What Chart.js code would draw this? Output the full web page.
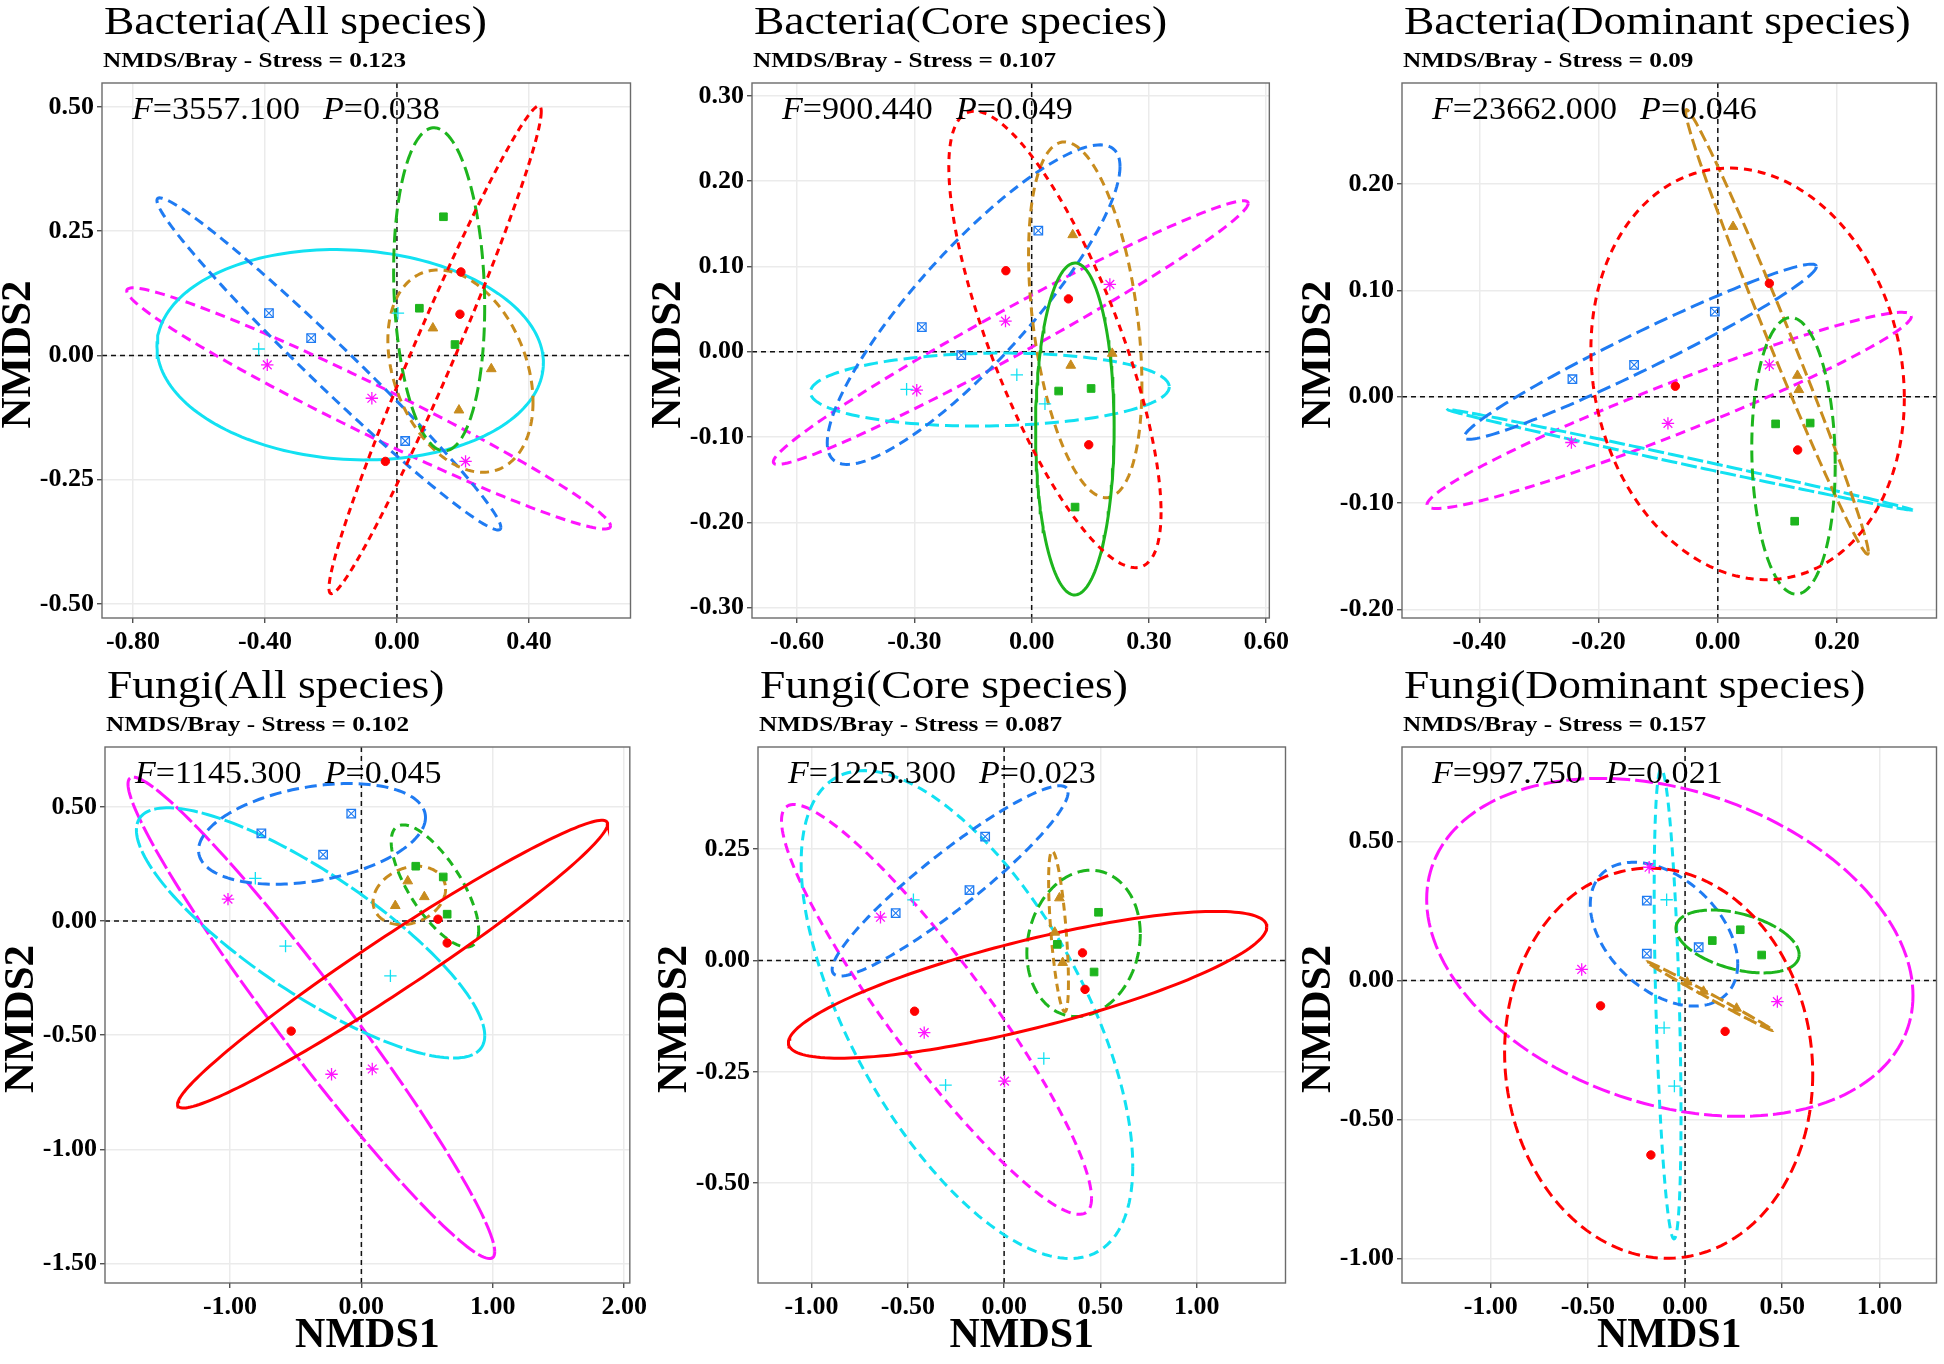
<!DOCTYPE html>
<html>
<head>
<meta charset="utf-8">
<title>NMDS panels</title>
<script src="https://cdn.jsdelivr.net/npm/chart.js@4.4.1/dist/chart.umd.min.js"></script>
<style>
  html, body { margin: 0; padding: 0; background: #fff; width: 1944px; height: 1364px; overflow: hidden; position: relative; }
  canvas { position: absolute; }
</style>
</head>
<body>
<script>
// Groups, in the same order everywhere:
// red circle, green square, brown triangle, blue boxed cross, cyan plus, magenta star
const groupNames = ['G1', 'G2', 'G3', 'G4', 'G5', 'G6']

const panelTitles = [
  'Bacteria(All species)', 'Bacteria(Core species)', 'Bacteria(Dominant species)',
  'Fungi(All species)', 'Fungi(Core species)', 'Fungi(Dominant species)'
]
const stressValues = ['0.123', '0.107', '0.09', '0.102', '0.087', '0.157']
const fValues = ['3557.100', '900.440', '23662.000', '1145.300', '1225.300', '997.750']
const pValues = ['0.038', '0.049', '0.046', '0.045', '0.023', '0.021']

// Bacteria(All species)
const bacAllX = [[0.191, 0.194, -0.035], [0.141, 0.068, 0.176], [0.109, 0.286, 0.188], [-0.388, -0.26, 0.025], [-0.419, 0.003], [-0.393, -0.076, 0.208]]
const bacAllY = [[0.083, 0.168, -0.213], [0.279, 0.095, 0.022], [0.055, -0.027, -0.110], [0.085, 0.035, -0.172], [0.013, 0.085], [-0.019, -0.086, -0.213]]
// ellipses: [xMin, xMax, yMin, yMax, x where the ellipse is highest]
const bacAllEllipses = [
  [-0.206, 0.4375, -0.479, 0.502, 0.43],
  [-0.01, 0.266, -0.192, 0.458, 0.1125],
  [-0.0275, 0.4125, -0.235, 0.172, 0.125],
  [-0.7275, 0.315, -0.351, 0.317, -0.719],
  [-0.7275, 0.444, -0.21, 0.213, -0.1875],
  [-0.819, 0.6475, -0.349, 0.136, -0.8]
]
const bacAllXTicks = [-0.8, -0.4, 0, 0.4]
const bacAllYTicks = [-0.5, -0.25, 0, 0.25, 0.5]
const bacAllXRange = [-0.894, 0.708]
const bacAllYRange = [-0.528, 0.548]

// Bacteria(Core species)
const bacCoreX = [[-0.066, 0.094, 0.146], [0.069, 0.152, 0.111], [0.105, 0.100, 0.206], [0.017, -0.281, -0.180], [-0.320, -0.038, 0.034], [-0.067, 0.200, -0.294]]
const bacCoreY = [[0.095, 0.062, -0.109], [-0.046, -0.043, -0.182], [0.137, -0.016, -0.002], [0.142, 0.029, -0.004], [-0.044, -0.027, -0.061], [0.036, 0.079, -0.045]]
const bacCoreEllipses = [
  [-0.212, 0.331, -0.253, 0.282, -0.146],
  [0.010, 0.211, -0.285, 0.104, 0.111],
  [-0.008, 0.282, -0.171, 0.246, 0.084],
  [-0.523, 0.226, -0.132, 0.2425, 0.175],
  [-0.566, 0.352, -0.087, -0.0015, -0.074],
  [-0.661, 0.554, -0.132, 0.177, 0.542]
]
const bacCoreXTicks = [-0.6, -0.3, 0, 0.3, 0.6]
const bacCoreYTicks = [-0.3, -0.2, -0.1, 0, 0.1, 0.2, 0.3]
const bacCoreXRange = [-0.7155, 0.608]
const bacCoreYRange = [-0.312, 0.315]

// Bacteria(Dominant species)
const bacDomX = [[0.0865, -0.0713, 0.134], [0.097, 0.155, 0.129], [0.0256, 0.1336, 0.136], [-0.244, -0.1405, -0.005], [], [-0.2457, -0.0837, 0.0865]]
const bacDomY = [[0.1066, 0.0099, -0.050], [-0.0255, -0.0247, -0.117], [0.160, 0.020, 0.0066], [0.0165, 0.030, 0.080], [], [-0.043, -0.025, 0.030]]
const bacDomEllipses = [
  [-0.213, 0.313, -0.172, 0.215, 0.019],
  [0.057, 0.197, -0.1856, 0.0745, 0.1225],
  [-0.054, 0.2526, -0.148, 0.27, -0.0526],
  [-0.4256, 0.1654, -0.040, 0.1247, 0.157],
  [-0.453, 0.3266, -0.1066, -0.012, -0.452],
  [-0.488, 0.325, -0.105, 0.0794, 0.309]
]
const bacDomXTicks = [-0.4, -0.2, 0, 0.2]
const bacDomYTicks = [-0.2, -0.1, 0, 0.1, 0.2]
const bacDomXRange = [-0.530, 0.367]
const bacDomYRange = [-0.208, 0.295]

// Fungi(All species)
const funAllX = [[0.583, 0.653, -0.534], [0.414, 0.623, 0.653], [0.353, 0.479, 0.258], [-0.761, -0.291, -0.077], [-0.577, 0.221, -0.807], [-1.015, -0.227, 0.083]]
const funAllY = [[0.008, -0.096, -0.482], [0.240, 0.193, 0.030], [0.175, 0.106, 0.067], [0.384, 0.291, 0.470], [-0.110, -0.240, 0.187], [0.096, -0.671, -0.648]]
const funAllEllipses = [
  [-1.399, 1.874, -0.819, 0.441, 1.831],
  [0.227, 0.893, -0.114, 0.421, 0.319],
  [0.089, 0.641, -0.016, 0.240, 0.426],
  [-1.239, 0.488, 0.161, 0.602, -0.095],
  [-1.712, 0.939, -0.600, 0.496, -1.475],
  [-1.776, 1.015, -1.478, 0.630, -1.736]
]
const funAllXTicks = [-1, 0, 1, 2]
const funAllYTicks = [-1.5, -1, -0.5, 0, 0.5]
const funAllXRange = [-1.951, 2.043]
const funAllYRange = [-1.585, 0.762]

// Fungi(Core species)
const funCoreX = [[0.407, 0.420, -0.465], [0.490, 0.276, 0.467], [0.287, 0.304, 0.263], [-0.0985, -0.180, -0.563], [-0.471, -0.304, 0.206], [-0.642, -0.415, 0.002]]
const funCoreY = [[0.017, -0.065, -0.114], [0.108, 0.036, -0.026], [0.140, -0.005, 0.063], [0.278, 0.158, 0.106], [0.136, -0.280, -0.220], [0.097, -0.162, -0.271]]
const funCoreEllipses = [
  [-1.12, 1.364, -0.2195, 0.110, 1.1],
  [0.118, 0.707, -0.126, 0.2024, 0.45],
  [0.231, 0.334, -0.115, 0.245, 0.25],
  [-0.893, 0.332, -0.035, 0.392, 0.289],
  [-1.054, 0.668, -0.669, 0.426, -0.728],
  [-1.156, 0.454, -0.570, 0.350, -1.092]
]
const funCoreXTicks = [-1, -0.5, 0, 0.5, 1]
const funCoreYTicks = [-0.5, -0.25, 0, 0.25]
const funCoreXRange = [-1.278, 1.461]
const funCoreYRange = [-0.724, 0.479]

// Fungi(Dominant species)
const funDomX = [[-0.435, 0.206, -0.176], [0.140, 0.284, 0.394], [0.011, 0.095, 0.265], [-0.197, -0.197, 0.070], [-0.095, -0.108, -0.055], [-0.532, -0.185, 0.475]]
const funDomY = [[-0.091, -0.183, -0.628], [0.144, 0.183, 0.092], [-0.006, -0.039, -0.100], [0.288, 0.097, 0.120], [0.291, -0.170, -0.380], [0.040, 0.408, -0.076]]
const funDomEllipses = [
  [-0.929, 0.657, -1.0, 0.405, -0.18],
  [-0.047, 0.587, 0.0275, 0.254, 0.138],
  [-0.197, 0.452, -0.18, 0.068, -0.196],
  [-0.488, 0.271, -0.092, 0.426, -0.265],
  [-0.159, -0.021, -0.930, 0.761, -0.123],
  [-1.33, 1.173, -0.489, 0.728, -0.435]
]
const funDomXTicks = [-1, -0.5, 0, 0.5, 1]
const funDomYTicks = [-1, -0.5, 0, 0.5]
const funDomXRange = [-1.457, 1.294]
const funDomYRange = [-1.089, 0.841]

// ---- styles ----
const groupColors = ['#FF0000', '#1DB51D', '#C88C1E', '#1F7BF2', '#12E1F2', '#FF14FF']
const markerStyles = [
  { style: 'circle', radius: 4.2, filled: true },
  { style: 'rect', radius: 5.4, filled: true },
  { style: 'triangle', radius: 5.6, filled: true },
  { style: 'rect', radius: 6, filled: false, overlay: 'crossRot' },
  { style: 'cross', radius: 6.2, filled: false },
  { style: 'star', radius: 6.2, filled: false }
]
const ellipseDashes = [
  [[7, 5], [14, 6], [9, 6], [10, 6], [], [10, 6]],
  [[7, 6], [], [9, 6], [10, 6], [14, 6], [10, 6]],
  [[8, 6], [12, 6], [12, 5], [14, 6], [16, 4], [10, 6]],
  [[], [9, 6], [10, 6], [12, 6], [20, 4], [22, 4]],
  [[], [12, 6], [8, 5], [10, 6], [10, 6], [10, 6]],
  [[12, 6], [20, 4], [14, 4], [10, 6], [9, 6], [18, 5]]
]
// plot area of each panel on the page: [left, top, right, bottom]
const plotBoxes = [
  [102, 83, 636, 618],
  [752, 83, 1291, 618],
  [1402, 83, 1942, 618],
  [105, 747, 649, 1283],
  [758, 747, 1291, 1283],
  [1402, 747, 1942, 1283]
]
const AXIS_W = 105
const TOP_PAD = 85

const panels = [
  { xs: bacAllX, ys: bacAllY, ells: bacAllEllipses, xTicks: bacAllXTicks, yTicks: bacAllYTicks, xRange: bacAllXRange, yRange: bacAllYRange },
  { xs: bacCoreX, ys: bacCoreY, ells: bacCoreEllipses, xTicks: bacCoreXTicks, yTicks: bacCoreYTicks, xRange: bacCoreXRange, yRange: bacCoreYRange },
  { xs: bacDomX, ys: bacDomY, ells: bacDomEllipses, xTicks: bacDomXTicks, yTicks: bacDomYTicks, xRange: bacDomXRange, yRange: bacDomYRange },
  { xs: funAllX, ys: funAllY, ells: funAllEllipses, xTicks: funAllXTicks, yTicks: funAllYTicks, xRange: funAllXRange, yRange: funAllYRange },
  { xs: funCoreX, ys: funCoreY, ells: funCoreEllipses, xTicks: funCoreXTicks, yTicks: funCoreYTicks, xRange: funCoreXRange, yRange: funCoreYRange },
  { xs: funDomX, ys: funDomY, ells: funDomEllipses, xTicks: funDomXTicks, yTicks: funDomYTicks, xRange: funDomXRange, yRange: funDomYRange }
]

/**
 * Outline of an ellipse given by its bounding box and the x of its top point.
 *
 * @param {number[]} e - [xMin, xMax, yMin, yMax, xTop].
 * @returns {object[]} Points in data units.
 */
function ellipseOutline (e) {
  const [x0, x1, y0, y1, xTop] = e
  const cx = (x0 + x1) / 2
  const cy = (y0 + y1) / 2
  const hx = (x1 - x0) / 2
  const hy = (y1 - y0) / 2
  const c = Math.max(-0.9995, Math.min(0.9995, (xTop - cx) / hx))
  const phi = Math.acos(c)
  const pts = []
  for (let i = 0; i <= 180; i++) {
    const t = (i / 180) * Math.PI * 2
    pts.push({ x: cx + hx * Math.cos(t), y: cy + hy * Math.cos(t + phi) })
  }
  return pts
}

function buildDatasets (panel, dashes) {
  const sets = []
  groupNames.forEach((name, g) => {
    const color = groupColors[g]
    const m = markerStyles[g]
    const pts = panel.xs[g].map((v, i) => ({ x: v, y: panel.ys[g][i] }))
    sets.push({
      label: name,
      data: pts,
      showLine: false,
      pointStyle: m.style,
      pointRadius: m.radius,
      pointBackgroundColor: m.filled ? color : 'rgba(255,255,255,0)',
      pointBorderColor: color,
      pointBorderWidth: m.filled ? 1 : 1.3,
      order: 0
    })
    if (m.overlay) {
      sets.push({
        label: name + ' x',
        data: pts,
        showLine: false,
        pointStyle: m.overlay,
        pointRadius: m.radius,
        pointBorderColor: color,
        pointBorderWidth: 1.1,
        order: 0
      })
    }
    sets.push({
      label: name + ' ellipse',
      data: ellipseOutline(panel.ells[g]),
      showLine: true,
      fill: false,
      tension: 0,
      borderColor: color,
      borderWidth: 3,
      borderDash: dashes[g],
      pointRadius: 0,
      order: 1
    })
  })
  return sets
}

/**
 * Draw text pieces one after another, stretched horizontally.
 */
function drawPieces (ctx, pieces, x, y, sx) {
  ctx.save()
  ctx.translate(x, y)
  ctx.scale(sx, 1)
  ctx.textAlign = 'left'
  ctx.textBaseline = 'alphabetic'
  ctx.fillStyle = '#000'
  let cx = 0
  pieces.forEach(([text, font, gap]) => {
    ctx.font = font
    ctx.fillText(text, cx, 0)
    cx += ctx.measureText(text).width + (gap || 0)
  })
  ctx.restore()
}

const panelDecor = {
  id: 'panelDecor',
  beforeDatasetsDraw (chart) {
    const { ctx, chartArea: a, scales: { x, y } } = chart
    ctx.save()
    ctx.beginPath()
    ctx.rect(a.left, a.top, a.right - a.left, a.bottom - a.top)
    ctx.clip()
    ctx.strokeStyle = '#111'
    ctx.lineWidth = 1.5
    ctx.setLineDash([5, 4])
    const x0 = x.getPixelForValue(0)
    const y0 = y.getPixelForValue(0)
    ctx.beginPath()
    ctx.moveTo(x0, a.top)
    ctx.lineTo(x0, a.bottom)
    ctx.stroke()
    ctx.beginPath()
    ctx.moveTo(a.left, y0)
    ctx.lineTo(a.right, y0)
    ctx.stroke()
    ctx.restore()
  },
  afterDraw (chart, args, opts) {
    const { ctx, chartArea: a } = chart
    ctx.save()
    // panel frame
    ctx.strokeStyle = '#6b6b6b'
    ctx.lineWidth = 1.4
    ctx.strokeRect(a.left, a.top, a.right - a.left, a.bottom - a.top)
    ctx.restore()

    drawPieces(ctx, [[opts.title, '41px "Liberation Serif"']], a.left + 2, a.top - 49, 1.11)
    drawPieces(ctx, [['NMDS/Bray - Stress = ' + opts.stress, 'bold 20px "Liberation Serif"']], a.left + 1, a.top - 16, 1.26)
    drawPieces(ctx, [
      ['F', 'italic 31px "Liberation Serif"'],
      ['=' + opts.f, '31px "Liberation Serif"', 21],
      ['P', 'italic 31px "Liberation Serif"'],
      ['=' + opts.p, '31px "Liberation Serif"']
    ], a.left + 30, a.top + 36, 1.1)

    // y axis title
    ctx.save()
    ctx.translate(a.left - 86 + 14, (a.top + a.bottom) / 2 + 4)
    ctx.rotate(-Math.PI / 2)
    ctx.font = 'bold 43px "Liberation Serif"'
    ctx.textAlign = 'center'
    ctx.textBaseline = 'alphabetic'
    ctx.fillStyle = '#000'
    ctx.fillText('NMDS2', 0, 0)
    ctx.restore()

    if (opts.showX) {
      ctx.save()
      ctx.font = 'bold 42px "Liberation Serif"'
      ctx.textAlign = 'center'
      ctx.textBaseline = 'alphabetic'
      ctx.fillStyle = '#000'
      ctx.fillText('NMDS1', (a.left + a.right) / 2, a.bottom + 64)
      ctx.restore()
    }
  }
}

Chart.defaults.font.family = '"Liberation Serif", serif'

panels.forEach((panel, i) => {
  const [L, T, R, B] = plotBoxes[i]
  const bottomRow = i >= 3
  const xAxisH = bottomRow ? 1364 - B : 64
  const canvas = document.createElement('canvas')
  canvas.width = (R - L) + AXIS_W + 2
  canvas.height = (B - T) + TOP_PAD + xAxisH
  canvas.style.left = (L - AXIS_W) + 'px'
  canvas.style.top = (T - TOP_PAD) + 'px'
  document.body.appendChild(canvas)

  const tickFont = { family: '"Liberation Serif", serif', size: 26, weight: 700 }
  const gridStyle = { color: '#EBEBEB', lineWidth: 1.5, tickColor: '#333', tickLength: 5, tickWidth: 1.2 }

  new Chart(canvas.getContext('2d'), {
    type: 'scatter',
    data: { datasets: buildDatasets(panel, ellipseDashes[i]) },
    options: {
      responsive: false,
      animation: false,
      devicePixelRatio: 1,
      layout: { padding: { top: TOP_PAD, right: 2, left: 0, bottom: 0 } },
      scales: {
        x: {
          type: 'linear',
          min: panel.xRange[0],
          max: panel.xRange[1],
          grid: gridStyle,
          border: { display: false },
          afterBuildTicks: (scale) => { scale.ticks = panel.xTicks.map(v => ({ value: v })) },
          afterFit: (scale) => { scale.height = xAxisH },
          ticks: { font: tickFont, color: '#000', padding: 4, maxRotation: 0, autoSkip: false, callback: v => v.toFixed(2) }
        },
        y: {
          type: 'linear',
          min: panel.yRange[0],
          max: panel.yRange[1],
          grid: gridStyle,
          border: { display: false },
          afterBuildTicks: (scale) => { scale.ticks = panel.yTicks.map(v => ({ value: v })) },
          afterFit: (scale) => { scale.width = AXIS_W },
          ticks: { font: tickFont, color: '#000', padding: 3, autoSkip: false, callback: v => v.toFixed(2) }
        }
      },
      plugins: {
        legend: { display: false },
        tooltip: { enabled: false },
        panelDecor: {
          title: panelTitles[i],
          stress: stressValues[i],
          f: fValues[i],
          p: pValues[i],
          showX: bottomRow
        }
      }
    },
    plugins: [panelDecor]
  })
})
</script>
</body>
</html>
